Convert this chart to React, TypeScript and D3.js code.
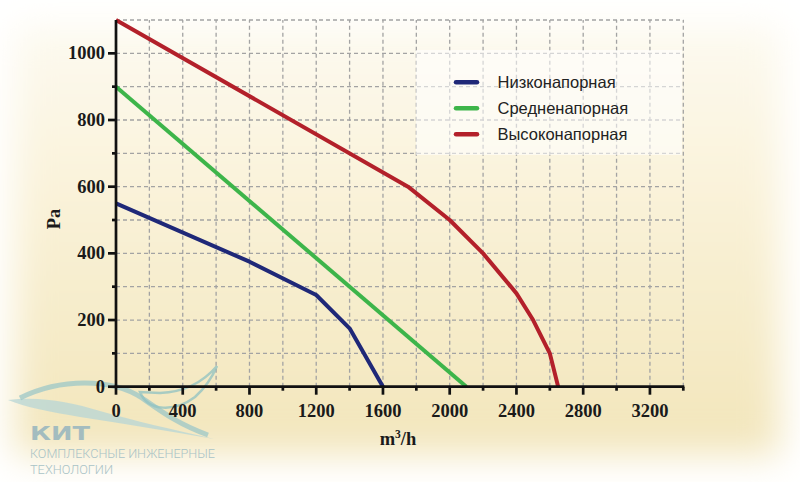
import React, { useRef, useEffect } from "react";
import * as d3 from "d3";

// flow, m3/h  vs  pressure, Pa
const lowFlow = [0, 800, 1200, 1400, 1600];
const lowPa = [550, 375, 275, 175, 0];
const midFlow = [0, 2100];
const midPa = [900, 0];
const highFlow = [0, 1750, 2000, 2200, 2400, 2500, 2600, 2650];
const highPa = [1100, 600, 500, 400, 280, 200, 100, 0];

const seriesNames = ["Низконапорная", "Средненапорная", "Высоконапорная"];
const seriesColors = ["#1f2878", "#3db54a", "#b3202a"];

const xMajor = [0, 400, 800, 1200, 1600, 2000, 2400, 2800, 3200];
const xMinor = [200, 600, 1000, 1400, 1800, 2200, 2600, 3000, 3400];
const yMajor = [0, 200, 400, 600, 800, 1000];
const yMinor = [100, 300, 500, 700, 900];

export default function App() {
  const ref = useRef<SVGSVGElement>(null);

  useEffect(() => {
    if (!ref.current) return;
    const svg = d3.select(ref.current);
    svg.selectAll("*").remove();

    const w = 800;
    const h = 482;
    const x = d3.scaleLinear().domain([0, 3400]).range([116, 683.3]);
    const y = d3.scaleLinear().domain([0, 1100]).range([386.7, 20]);

    // background
    const defs = svg.append("defs");
    const grad = defs.append("linearGradient")
      .attr("id", "bg").attr("x1", 0).attr("y1", 0).attr("x2", 0).attr("y2", 1);
    grad.append("stop").attr("offset", "0%").attr("stop-color", "#fdfaf0");
    grad.append("stop").attr("offset", "45%").attr("stop-color", "#f9f1d6");
    grad.append("stop").attr("offset", "100%").attr("stop-color", "#f2e5ba");
    defs.append("filter").attr("id", "soft")
      .attr("x", "-20%").attr("y", "-20%").attr("width", "140%").attr("height", "140%")
      .append("feGaussianBlur").attr("stdDeviation", 18);

    svg.append("rect").attr("width", w).attr("height", h).attr("fill", "#ffffff");
    svg.append("rect")
      .attr("x", 15).attr("y", 25).attr("width", 765).attr("height", 430)
      .attr("fill", "url(#bg)")
      .attr("filter", "url(#soft)");

    // grid
    const grid = svg.append("g")
      .attr("stroke", "#a3a3a3")
      .attr("stroke-width", 1.3)
      .attr("stroke-dasharray", "4,3");
    grid.selectAll("line.v")
      .data(d3.range(200, 3401, 200))
      .enter().append("line")
      .attr("x1", d => x(d)).attr("x2", d => x(d))
      .attr("y1", y(0)).attr("y2", y(1100));
    grid.selectAll("line.h")
      .data(d3.range(100, 1101, 100))
      .enter().append("line")
      .attr("x1", x(0)).attr("x2", x(3400))
      .attr("y1", d => y(d)).attr("y2", d => y(d));

    // legend box
    svg.append("rect")
      .attr("x", 416).attr("y", 50).attr("width", 266).attr("height", 105)
      .attr("fill", "#ffffff").attr("opacity", 0.55);

    // watermark logo
    const logo = svg.append("g");
    logo.append("path")
      .attr("d", "M8,400 C40,396 70,402 100,411 C135,421 175,430 214,439 C170,431 125,424 80,417 C50,412 25,407 8,400 Z")
      .attr("fill", "#b7d6d6").attr("opacity", 0.75);
    logo.append("path")
      .attr("d", "M20,398 C60,378 112,378 142,398 C162,412 178,424 208,435")
      .attr("fill", "none").attr("stroke", "#9cc7c7").attr("stroke-width", 5).attr("opacity", 0.75);
    logo.append("path")
      .attr("d", "M140,392 C148,412 175,412 195,397 C205,388 212,378 217,366 C205,380 186,392 160,393 Z")
      .attr("fill", "none").attr("stroke", "#8fc2c2").attr("stroke-width", 2.5).attr("opacity", 0.75);
    logo.append("text")
      .attr("x", 30).attr("y", 439.5)
      .attr("font-family", "DejaVu Sans").attr("font-weight", "bold")
      .attr("font-size", 19).attr("fill", "#a3bcbf")
      .attr("textLength", 60).attr("lengthAdjust", "spacingAndGlyphs")
      .text("КИТ");
    logo.append("text")
      .attr("x", 30).attr("y", 458)
      .attr("font-family", "Roboto").attr("font-weight", 300)
      .attr("font-size", 13.5).attr("fill", "#a9c3c6")
      .attr("textLength", 185).attr("lengthAdjust", "spacingAndGlyphs")
      .text("КОМПЛЕКСНЫЕ ИНЖЕНЕРНЫЕ");
    logo.append("text")
      .attr("x", 30).attr("y", 474)
      .attr("font-family", "Roboto").attr("font-weight", 300)
      .attr("font-size", 12.5).attr("fill", "#a9c3c6")
      .attr("textLength", 83).attr("lengthAdjust", "spacingAndGlyphs")
      .text("ТЕХНОЛОГИИ");

    // series
    const line = d3.line<[number, number]>()
      .x(d => x(d[0]))
      .y(d => y(d[1]));
    const series: [number, number][][] = [
      lowFlow.map((f, i) => [f, lowPa[i]]),
      midFlow.map((f, i) => [f, midPa[i]]),
      highFlow.map((f, i) => [f, highPa[i]]),
    ];
    series.forEach((pts, i) => {
      svg.append("path")
        .datum(pts)
        .attr("d", line)
        .attr("fill", "none")
        .attr("stroke", seriesColors[i])
        .attr("stroke-width", 4)
        .attr("stroke-linejoin", "round");
    });

    // axes
    const axis = svg.append("g").attr("stroke", "#111").attr("stroke-width", 2.7);
    axis.append("line")
      .attr("x1", x(0)).attr("x2", x(0)).attr("y1", y(1100)).attr("y2", y(0) + 1.3);
    axis.append("line")
      .attr("x1", x(0) - 1.3).attr("x2", x(3400) + 1).attr("y1", y(0)).attr("y2", y(0));
    axis.selectAll("line.ym").data(yMajor).enter().append("line")
      .attr("x1", x(0) - 8).attr("x2", x(0)).attr("y1", d => y(d)).attr("y2", d => y(d));
    axis.selectAll("line.yn").data(yMinor).enter().append("line")
      .attr("x1", x(0) - 4).attr("x2", x(0)).attr("y1", d => y(d)).attr("y2", d => y(d));
    axis.selectAll("line.xm").data(xMajor).enter().append("line")
      .attr("x1", d => x(d)).attr("x2", d => x(d)).attr("y1", y(0)).attr("y2", y(0) + 8);
    axis.selectAll("line.xn").data(xMinor).enter().append("line")
      .attr("x1", d => x(d)).attr("x2", d => x(d)).attr("y1", y(0)).attr("y2", y(0) + 4);

    const tickFont = (s: d3.Selection<SVGTextElement, number, SVGGElement, unknown>) =>
      s.attr("font-family", "Liberation Serif").attr("font-weight", "bold")
        .attr("font-size", 18.5).attr("fill", "#1a1a1a");

    const labels = svg.append("g");
    labels.selectAll("text.y").data(yMajor).enter().append("text")
      .attr("x", 105).attr("y", d => y(d) + 6)
      .attr("text-anchor", "end")
      .call(tickFont)
      .text(d => String(d));
    labels.selectAll("text.x").data(xMajor).enter().append("text")
      .attr("x", d => x(d)).attr("y", 417)
      .attr("text-anchor", "middle")
      .call(tickFont)
      .text(d => String(d));

    // axis titles
    const xt = svg.append("text")
      .attr("x", 398).attr("y", 445)
      .attr("text-anchor", "middle")
      .attr("font-family", "Liberation Serif").attr("font-weight", "bold")
      .attr("font-size", 18.5).attr("fill", "#1a1a1a");
    xt.append("tspan").text("m");
    xt.append("tspan").attr("dy", -7).attr("font-size", 11.5).text("3");
    xt.append("tspan").attr("dy", 7).text("/h");

    svg.append("text")
      .attr("transform", "translate(60,219) rotate(-90)")
      .attr("text-anchor", "middle")
      .attr("font-family", "Liberation Serif").attr("font-weight", "bold")
      .attr("font-size", 18.5).attr("fill", "#1a1a1a")
      .text("Pa");

    // legend
    const lg = svg.append("g");
    seriesNames.forEach((name, i) => {
      const ly = 82.3 + i * 26;
      lg.append("line")
        .attr("x1", 456).attr("x2", 477).attr("y1", ly).attr("y2", ly)
        .attr("stroke", seriesColors[i]).attr("stroke-width", 4.5)
        .attr("stroke-linecap", "round");
      lg.append("text")
        .attr("x", 497.5).attr("y", ly + 6)
        .attr("font-family", "Liberation Sans")
        .attr("font-size", 16.5).attr("fill", "#222")
        .text(name);
    });
  }, []);

  return (
    <svg ref={ref} width={800} height={482}
      style={{ position: "absolute", left: 0, top: 0, display: "block" }} />
  );
}
